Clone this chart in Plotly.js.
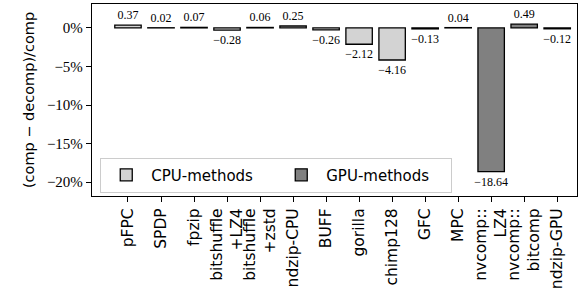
<!DOCTYPE html>
<html><head><meta charset="utf-8">
<script src="https://cdn.plot.ly/plotly-3.0.1.min.js"></script>
<style>html,body{margin:0;padding:0;background:#fff}</style>
</head><body><div id="chart" style="width:587px;height:293px"></div>
<script>
const categories = ["pFPC","SPDP","fpzip","bitshuffle<br>+LZ4","bitshuffle<br>+zstd","ndzip-CPU","BUFF","gorilla","chimp128","GFC","MPC","nvcomp::<br>LZ4","nvcomp::<br>bitcomp","ndzip-GPU"];
const cpuCategories = categories.slice(0,9);
const gpuCategories = categories.slice(9);
const cpuValues = [0.37,0.02,0.07,-0.28,0.06,0.25,-0.26,-2.12,-4.16];
const gpuValues = [-0.13,0.04,-18.64,0.49,-0.12];
const yTickVals = [0,-5,-10,-15,-20];
const yTickText = ["0%","−5%","−10%","−15%","−20%"];
const fmt = v => (v<0?"−":"") + Math.abs(v).toFixed(2);
const common = {type:'bar', width:0.8, textposition:'outside', cliponaxis:false, constraintext:'none',
  textfont:{family:'Liberation Serif, serif', size:12, color:'#000'}};
const traces = [
  Object.assign({}, common, {name:'CPU-methods', x:cpuCategories, y:cpuValues, text:cpuValues.map(fmt),
    marker:{color:'#d3d3d3', line:{color:'#000', width:1.3}}}),
  Object.assign({}, common, {name:'GPU-methods', x:gpuCategories, y:gpuValues, text:gpuValues.map(fmt),
    marker:{color:'#808080', line:{color:'#000', width:1.3}}})
];
const layout = {
  width:587, height:293, margin:{l:92, r:10, t:4, b:97},
  paper_bgcolor:'#fff', plot_bgcolor:'#fff', barmode:'overlay', showlegend:true,
  font:{family:'DejaVu Sans, sans-serif', size:14, color:'#000'},
  xaxis:{type:'category', categoryorder:'array', categoryarray:categories, range:[-1.09,13.6],
    tickangle:-90, ticks:'outside', ticklen:5, tickcolor:'#000', showline:true, linecolor:'#000', linewidth:1.3,
    mirror:true, showgrid:false, tickfont:{family:'DejaVu Sans, sans-serif', size:15.5}},
  yaxis:{range:[-21.8,3.1], tickvals:yTickVals, ticktext:yTickText, ticks:'outside', ticklen:5, tickcolor:'#000',
    showline:true, linecolor:'#000', linewidth:1.3, mirror:true, showgrid:false, zeroline:false,
    tickfont:{family:'Liberation Serif, serif', size:15},
    title:{text:'(comp − decomp)/comp', font:{family:'DejaVu Sans, sans-serif', size:14.5}, standoff:8}},
  legend:{orientation:'h', x:0.017, y:0.2, xanchor:'left', yanchor:'top', bgcolor:'#ffffff',
    bordercolor:'#cccccc', borderwidth:1, font:{family:'DejaVu Sans, sans-serif', size:15}, itemwidth:40, entrywidth:120}
};
Plotly.newPlot('chart', traces, layout, {displayModeBar:false});
</script></body></html>
